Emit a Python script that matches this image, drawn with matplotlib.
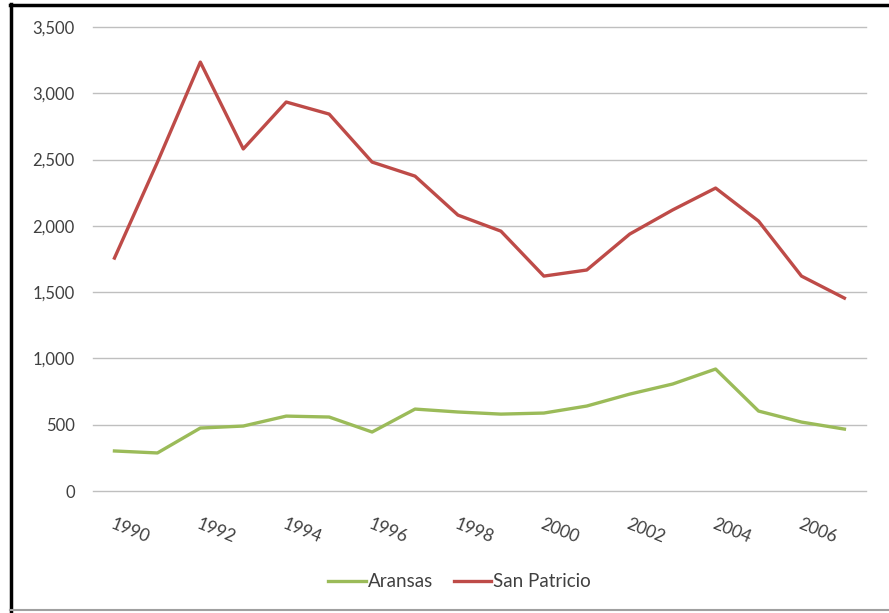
import matplotlib
matplotlib.use("Agg")
import matplotlib.pyplot as plt
import matplotlib.transforms as mtransforms
from matplotlib.lines import Line2D
from matplotlib.ticker import FuncFormatter

# data
years = list(range(1990, 2008))
aransas = [302, 287, 475, 490, 565, 558, 445, 618, 596, 580, 588, 641, 731, 807, 920, 603, 520, 467]
san_patricio = [1757, 2480, 3235, 2580, 2934, 2843, 2481, 2375, 2081, 1960, 1621, 1667, 1938, 2120, 2285, 2036, 1621, 1455]
tick_years = [1990, 1992, 1994, 1996, 1998, 2000, 2002, 2004, 2006]

plt.rcParams["font.family"] = ["Lato", "DejaVu Sans"]

fig = plt.figure(figsize=(8.89, 6.13), dpi=100)
ax = fig.add_axes([0.1046, 0.199, 0.8694, 0.757])

x = list(range(len(years)))
ax.plot(x, aransas, color="#9BBB59", lw=2.4, label="Aransas")
ax.plot(x, san_patricio, color="#BE4B48", lw=2.4, label="San Patricio")

ax.set_xlim(-0.5, len(years) - 0.5)
ax.set_ylim(0, 3500)
ax.set_yticks(range(0, 3501, 500))
ax.yaxis.set_major_formatter(FuncFormatter(lambda v, p: f"{int(v):,}"))
ax.grid(axis="y", color="#BFBFBF", lw=1.0)
for gl in ax.yaxis.get_gridlines():
    gl.set_clip_on(False)
ax.set_axisbelow(True)
for s in ax.spines.values():
    s.set_visible(False)

ax.set_xticks([years.index(y) for y in tick_years])
ax.set_xticklabels([str(y) for y in tick_years], rotation=-22, ha="center",
                   fontsize=12.5, color="#404040")
ax.tick_params(axis="x", length=0, pad=18)
ax.tick_params(axis="y", length=0, pad=13, labelsize=12, labelcolor="#404040")
# the labels sit a bit right of their data points in the original
shift = mtransforms.ScaledTranslation(16 / 100, 0, fig.dpi_scale_trans)
for lbl in ax.get_xticklabels():
    lbl.set_transform(lbl.get_transform() + shift)

fig.legend(loc="center", bbox_to_anchor=(0.517, 0.051), ncol=2, frameon=False,
           fontsize=13.5, handlelength=2.0, handletextpad=0.1, columnspacing=1.1,
           labelcolor="#404040")

# border like the pasted screenshot
fig.add_artist(Line2D([0.011, 1.0], [0.992, 0.992], color="black", lw=2.5, transform=fig.transFigure))
fig.add_artist(Line2D([0.012, 0.012], [0.0, 0.993], color="black", lw=2.5, transform=fig.transFigure))
fig.add_artist(Line2D([0.011, 1.0], [0.005, 0.005], color="#A0A0A0", lw=1.5, transform=fig.transFigure))

fig.savefig("out.png", dpi=100)
